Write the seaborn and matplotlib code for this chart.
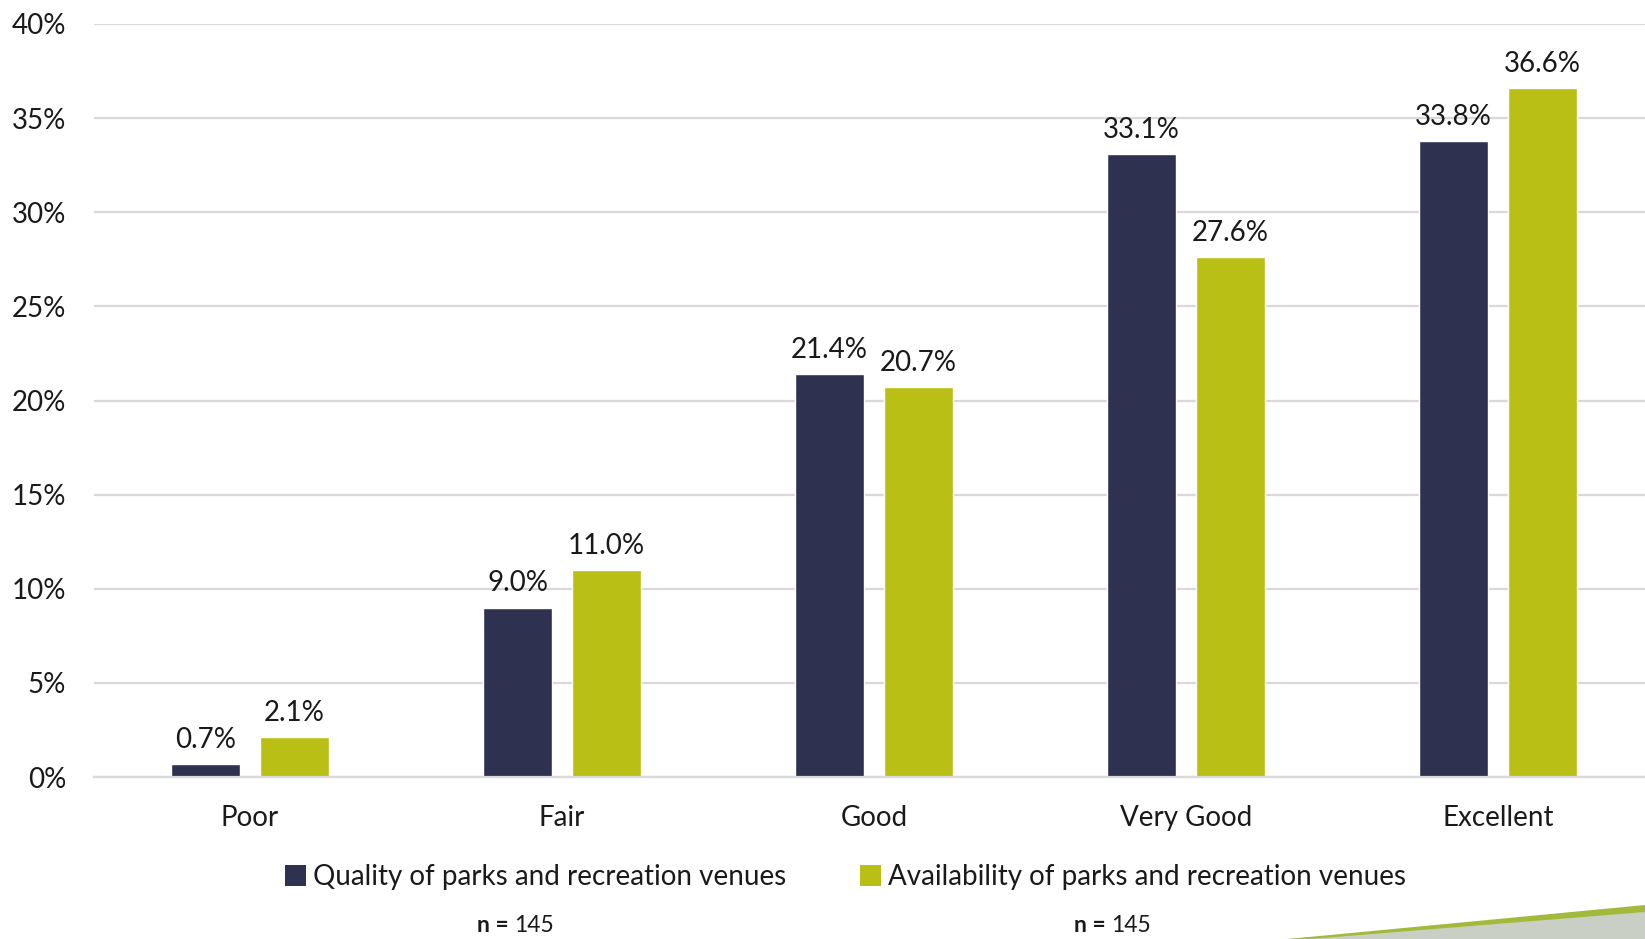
import matplotlib
matplotlib.use("Agg")
import matplotlib.pyplot as plt
from matplotlib.patches import Patch, Polygon
import seaborn as sns
import pandas as pd

categories = ["Poor", "Fair", "Good", "Very Good", "Excellent"]
series_names = ["Quality of parks and recreation venues",
                "Availability of parks and recreation venues"]
quality = [0.7, 9.0, 21.4, 33.1, 33.8]
availability = [2.1, 11.0, 20.7, 27.6, 36.6]
y_ticks = [0, 5, 10, 15, 20, 25, 30, 35, 40]
sample_sizes = [145, 145]

colors = ["#2E3250", "#B9BF15"]
text_color = "#1A1A1A"
grid_color = "#D9D9D9"
font_size = 20

df = pd.DataFrame({
    "category": categories * 2,
    "series": [series_names[0]] * len(categories) + [series_names[1]] * len(categories),
    "value": quality + availability,
})

sns.set_theme(style="white")
plt.rcParams["font.family"] = ["Lato", "DejaVu Sans"]

fig = plt.figure(figsize=(16.45, 9.39), dpi=100)
ax = fig.add_axes([94 / 1645, 1 - 777 / 939, 1560 / 1645, (777 - 24) / 939])

sns.barplot(data=df, x="category", y="value", hue="series", order=categories,
            hue_order=series_names, palette=colors, width=0.57, gap=0.22,
            saturation=1, errorbar=None, legend=False, ax=ax)

ax.set_xlim(-0.5, 4.5)
ax.set_ylim(0, 40)
ax.set_yticks(y_ticks)
ax.set_yticklabels([f"{t}%" for t in y_ticks])
ax.yaxis.grid(True, color=grid_color, linewidth=1.6)
ax.set_axisbelow(True)
for s in ["top", "right", "left"]:
    ax.spines[s].set_visible(False)
ax.spines["bottom"].set_color(grid_color)
ax.spines["bottom"].set_linewidth(1.6)
ax.tick_params(axis="both", length=0, labelsize=font_size, colors=text_color)
ax.tick_params(axis="y", pad=20)
ax.tick_params(axis="x", pad=20)
ax.set_xlabel("")
ax.set_ylabel("")

for container in ax.containers:
    ax.bar_label(container, labels=[f"{b.get_height():.1f}%" for b in container],
                 padding=8, fontsize=font_size, color=text_color)

handles = [Patch(facecolor=c, edgecolor="none") for c in colors]
fig.legend(handles, series_names, loc="center", bbox_to_anchor=(0.514, 0.066),
           ncol=2, frameon=False, fontsize=font_size, handlelength=0.75,
           handleheight=0.75, handletextpad=0.25, columnspacing=2.65,
           labelcolor=text_color)

for xc, n in zip([514 / 1645, 1111 / 1645], sample_sizes):
    fig.text(xc, 1 - 925 / 939, "n = ", ha="right", va="center",
             fontsize=16.5, fontweight="bold", color=text_color)
    fig.text(xc, 1 - 925 / 939, f"{n}", ha="left", va="center",
             fontsize=16.5, color=text_color)

# decorative swoosh in the lower right corner
gray_band = Polygon([(1288 / 1645, 0), (1645 / 1645, 1 - 911 / 939), (1, 0)],
                    closed=True, transform=fig.transFigure,
                    facecolor="#C9CFC4", edgecolor="none")
green_band = Polygon([(1288 / 1645, 0), (1, 1 - 905 / 939), (1, 1 - 912 / 939),
                      (1310 / 1645, 0)],
                     closed=True, transform=fig.transFigure,
                     facecolor="#A3B93A", edgecolor="none")
fig.patches.extend([gray_band, green_band])

fig.savefig("out.png", dpi=100)
